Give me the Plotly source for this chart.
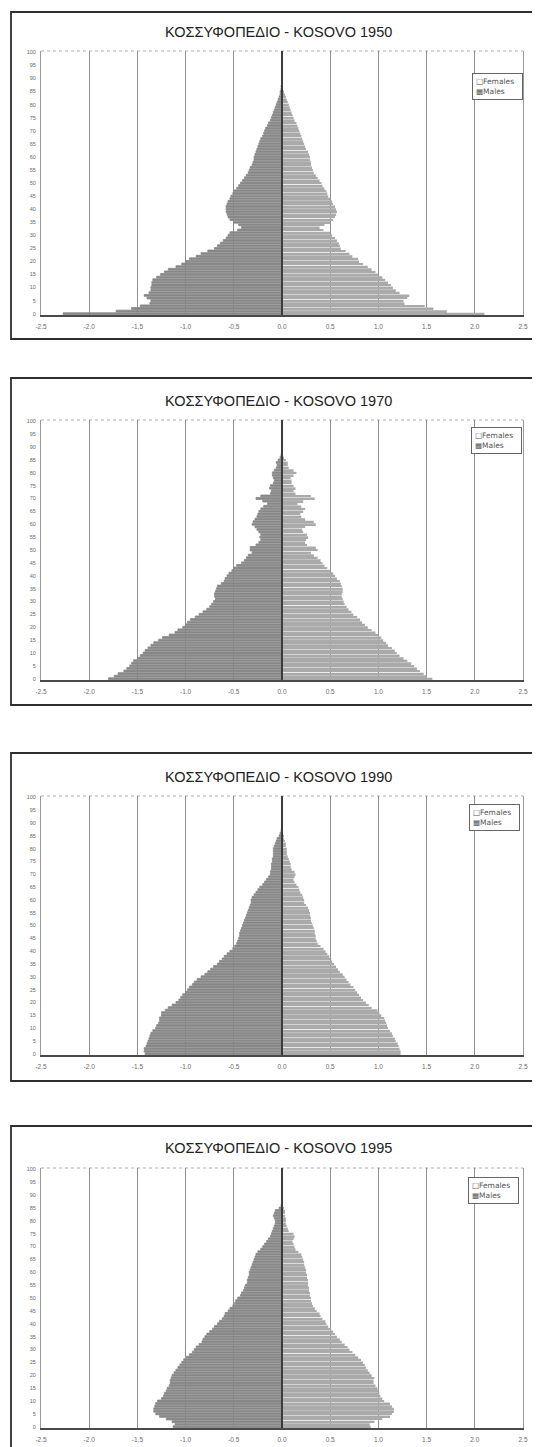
import plotly.graph_objects as go

# ---------------- data (% of total population, single-year ages 0..100) ----------------
ages = list(range(101))
years = ["1950", "1970", "1990", "1995"]
title_text = "ΚΟΣΣΥΦΟΠΕΔΙΟ - KOSOVO "
legend_labels = ["Females", "Males"]

males_1950 = [
    2.27, 1.72, 1.56, 1.47, 1.37, 1.36, 1.40, 1.43, 1.38, 1.36,
    1.36, 1.35, 1.35, 1.34, 1.30, 1.26, 1.22, 1.18, 1.10, 1.04,
    1.00, 0.96, 0.89, 0.84, 0.77, 0.70, 0.67, 0.64, 0.61, 0.58,
    0.56, 0.54, 0.46, 0.42, 0.45, 0.50, 0.54, 0.56, 0.57, 0.58,
    0.58, 0.58, 0.57, 0.56, 0.54, 0.53, 0.51, 0.50, 0.47, 0.45,
    0.43, 0.41, 0.39, 0.37, 0.35, 0.34, 0.33, 0.31, 0.30, 0.29,
    0.29, 0.28, 0.27, 0.26, 0.25, 0.24, 0.23, 0.22, 0.20, 0.19,
    0.18, 0.17, 0.15, 0.14, 0.12, 0.11, 0.10, 0.09, 0.08, 0.07,
    0.06, 0.05, 0.04, 0.03, 0.02, 0.02, 0.01, 0.01, 0.0, 0.0,
    0.0, 0.0, 0.0, 0.0, 0.0, 0.0, 0.0, 0.0, 0.0, 0.0,
    0.0,
]
females_1950 = [
    2.10, 1.71, 1.57, 1.48, 1.27, 1.26, 1.30, 1.32, 1.22, 1.18,
    1.15, 1.13, 1.10, 1.07, 1.04, 1.00, 0.97, 0.93, 0.89, 0.84,
    0.80, 0.79, 0.73, 0.70, 0.66, 0.61, 0.60, 0.59, 0.57, 0.55,
    0.52, 0.50, 0.43, 0.39, 0.44, 0.50, 0.53, 0.55, 0.56, 0.57,
    0.56, 0.55, 0.53, 0.52, 0.50, 0.48, 0.47, 0.46, 0.44, 0.42,
    0.41, 0.39, 0.37, 0.35, 0.33, 0.32, 0.31, 0.30, 0.30, 0.29,
    0.29, 0.28, 0.27, 0.25, 0.24, 0.23, 0.22, 0.21, 0.20, 0.19,
    0.18, 0.17, 0.16, 0.15, 0.13, 0.12, 0.11, 0.10, 0.09, 0.08,
    0.07, 0.06, 0.05, 0.04, 0.03, 0.02, 0.01, 0.01, 0.0, 0.0,
    0.0, 0.0, 0.0, 0.0, 0.0, 0.0, 0.0, 0.0, 0.0, 0.0,
    0.0,
]
males_1970 = [
    1.80, 1.74, 1.70, 1.64, 1.61, 1.58, 1.56, 1.54, 1.50, 1.47,
    1.44, 1.42, 1.39, 1.36, 1.33, 1.28, 1.24, 1.17, 1.11, 1.08,
    1.03, 1.00, 0.98, 0.95, 0.90, 0.86, 0.82, 0.78, 0.75, 0.73,
    0.71, 0.69, 0.70, 0.70, 0.69, 0.68, 0.67, 0.63, 0.60, 0.59,
    0.57, 0.55, 0.52, 0.50, 0.47, 0.42, 0.39, 0.37, 0.35, 0.31,
    0.33, 0.33, 0.27, 0.24, 0.22, 0.23, 0.22, 0.24, 0.26, 0.28,
    0.31, 0.30, 0.28, 0.26, 0.25, 0.24, 0.22, 0.19, 0.15, 0.20,
    0.27, 0.22, 0.12, 0.11, 0.13, 0.12, 0.09, 0.08, 0.09, 0.10,
    0.10, 0.08, 0.06, 0.05, 0.06, 0.04, 0.02, 0.01, 0.0, 0.0,
    0.0, 0.0, 0.0, 0.0, 0.0, 0.0, 0.0, 0.0, 0.0, 0.0,
    0.0,
]
females_1970 = [
    1.56, 1.50, 1.47, 1.43, 1.40, 1.37, 1.34, 1.30, 1.26, 1.22,
    1.19, 1.17, 1.14, 1.10, 1.08, 1.05, 1.03, 1.00, 0.97, 0.93,
    0.89, 0.86, 0.83, 0.81, 0.78, 0.74, 0.72, 0.69, 0.67, 0.65,
    0.64, 0.63, 0.62, 0.62, 0.63, 0.63, 0.62, 0.61, 0.60, 0.57,
    0.55, 0.53, 0.50, 0.47, 0.44, 0.42, 0.40, 0.37, 0.33, 0.30,
    0.37, 0.35, 0.26, 0.24, 0.25, 0.27, 0.26, 0.22, 0.21, 0.24,
    0.35, 0.33, 0.24, 0.20, 0.19, 0.22, 0.24, 0.20, 0.16, 0.22,
    0.34, 0.30, 0.14, 0.12, 0.14, 0.12, 0.10, 0.10, 0.09, 0.12,
    0.15, 0.12, 0.07, 0.06, 0.06, 0.04, 0.02, 0.01, 0.0, 0.0,
    0.0, 0.0, 0.0, 0.0, 0.0, 0.0, 0.0, 0.0, 0.0, 0.0,
    0.0,
]
males_1990 = [
    1.42, 1.43, 1.43, 1.41, 1.40, 1.39, 1.38, 1.37, 1.36, 1.34,
    1.31, 1.30, 1.28, 1.27, 1.27, 1.25, 1.25, 1.21, 1.18, 1.14,
    1.10, 1.07, 1.05, 1.03, 1.00, 0.98, 0.96, 0.93, 0.91, 0.88,
    0.84, 0.80, 0.77, 0.74, 0.71, 0.67, 0.65, 0.62, 0.60, 0.57,
    0.54, 0.51, 0.49, 0.47, 0.46, 0.45, 0.44, 0.44, 0.43, 0.42,
    0.41, 0.40, 0.39, 0.38, 0.37, 0.36, 0.35, 0.34, 0.33, 0.32,
    0.32, 0.31, 0.29, 0.27, 0.25, 0.23, 0.20, 0.18, 0.16, 0.14,
    0.12, 0.12, 0.11, 0.11, 0.11, 0.10, 0.10, 0.09, 0.09, 0.09,
    0.09, 0.08, 0.07, 0.06, 0.05, 0.03, 0.02, 0.01, 0.0, 0.0,
    0.0, 0.0, 0.0, 0.0, 0.0, 0.0, 0.0, 0.0, 0.0, 0.0,
    0.0,
]
females_1990 = [
    1.23, 1.23, 1.22, 1.21, 1.20, 1.18, 1.17, 1.15, 1.14, 1.12,
    1.10, 1.09, 1.08, 1.07, 1.06, 1.03, 1.01, 0.99, 0.93, 0.90,
    0.87, 0.84, 0.82, 0.80, 0.78, 0.76, 0.74, 0.71, 0.69, 0.67,
    0.65, 0.63, 0.60, 0.58, 0.56, 0.54, 0.52, 0.50, 0.49, 0.47,
    0.45, 0.43, 0.40, 0.37, 0.36, 0.35, 0.35, 0.34, 0.34, 0.33,
    0.32, 0.31, 0.30, 0.30, 0.29, 0.29, 0.28, 0.27, 0.25, 0.23,
    0.23, 0.22, 0.21, 0.19, 0.18, 0.17, 0.15, 0.13, 0.12, 0.13,
    0.14, 0.13, 0.10, 0.09, 0.09, 0.08, 0.07, 0.06, 0.05, 0.05,
    0.05, 0.04, 0.04, 0.03, 0.02, 0.02, 0.01, 0.0, 0.0, 0.0,
    0.0, 0.0, 0.0, 0.0, 0.0, 0.0, 0.0, 0.0, 0.0, 0.0,
    0.0,
]
males_1995 = [
    1.13, 1.11, 1.14, 1.20, 1.27, 1.31, 1.33, 1.33, 1.32, 1.31,
    1.29, 1.25, 1.23, 1.22, 1.20, 1.19, 1.17, 1.16, 1.16, 1.15,
    1.14, 1.12, 1.10, 1.08, 1.06, 1.04, 1.02, 0.99, 0.96, 0.93,
    0.91, 0.89, 0.86, 0.83, 0.82, 0.80, 0.78, 0.75, 0.72, 0.70,
    0.67, 0.65, 0.62, 0.60, 0.59, 0.56, 0.54, 0.51, 0.49, 0.48,
    0.46, 0.43, 0.42, 0.40, 0.39, 0.38, 0.36, 0.36, 0.35, 0.34,
    0.34, 0.33, 0.32, 0.31, 0.30, 0.29, 0.28, 0.27, 0.25, 0.22,
    0.20, 0.18, 0.16, 0.14, 0.12, 0.11, 0.10, 0.09, 0.08, 0.07,
    0.07, 0.08, 0.09, 0.08, 0.07, 0.03, 0.01, 0.0, 0.0, 0.0,
    0.0, 0.0, 0.0, 0.0, 0.0, 0.0, 0.0, 0.0, 0.0, 0.0,
    0.0,
]
females_1995 = [
    0.92, 0.91, 0.96, 1.04, 1.12, 1.14, 1.16, 1.16, 1.14, 1.12,
    1.06, 1.04, 1.02, 1.01, 1.00, 0.99, 0.97, 0.95, 0.95, 0.96,
    0.93, 0.91, 0.89, 0.87, 0.86, 0.84, 0.82, 0.79, 0.76, 0.73,
    0.70, 0.68, 0.65, 0.62, 0.60, 0.57, 0.55, 0.53, 0.51, 0.48,
    0.46, 0.45, 0.42, 0.40, 0.39, 0.36, 0.34, 0.32, 0.31, 0.30,
    0.30, 0.29, 0.29, 0.28, 0.28, 0.27, 0.27, 0.27, 0.26, 0.26,
    0.25, 0.25, 0.24, 0.23, 0.23, 0.22, 0.21, 0.20, 0.17, 0.14,
    0.13, 0.12, 0.11, 0.12, 0.13, 0.12, 0.07, 0.06, 0.05, 0.04,
    0.04, 0.04, 0.03, 0.03, 0.03, 0.02, 0.01, 0.0, 0.0, 0.0,
    0.0, 0.0, 0.0, 0.0, 0.0, 0.0, 0.0, 0.0, 0.0, 0.0,
    0.0,
]

males = [males_1950, males_1970, males_1990, males_1995]
females = [females_1950, females_1970, females_1990, females_1995]

x_tick_vals = [-2.5, -2.0, -1.5, -1.0, -0.5, 0.0, 0.5, 1.0, 1.5, 2.0, 2.5]
x_tick_labels = ["-2.5", "-2.0", "-1.5", "-1.0", "-0.5", "0.0", "0.5", "1.0", "1.5", "2.0", "2.5"]
y_tick_vals = [0, 5, 10, 15, 20, 25, 30, 35, 40, 45, 50, 55, 60, 65, 70, 75, 80, 85, 90, 95, 100]

# ---------------- layout geometry (pixels of the 540x1447 page) ----------------
PAGE_W, PAGE_H = 540, 1447
BODY_MARGIN = 8                      # default page margin around the plot div
W, H = PAGE_W - BODY_MARGIN, PAGE_H - BODY_MARGIN
plot_left, plot_right = 41, 523
plot_tops = [51, 420, 796, 1168]
plot_bottoms = [315, 680, 1055, 1428]
box_tops = [12, 378, 753, 1126]
box_bottoms = [339, 705, 1081, 1470]
box_left, box_right = 11, 538
title_ys = [32, 401, 777, 1148]
legend_tops = [73, 427, 804, 1177]
legend_rights = [523, 522, 520, 519]

MALE_COLOR = "#888888"
FEMALE_COLOR = "#aaaaaa"
FONT = "Liberation Sans, Arial, sans-serif"

def px_x(p):
    return (p - BODY_MARGIN) / W

def px_y(p):
    return 1 - (p - BODY_MARGIN) / H

fig = go.Figure()
layout = dict(
    width=W, height=H,
    margin=dict(l=0, r=0, t=0, b=0, autoexpand=False),
    paper_bgcolor="white", plot_bgcolor="white",
    barmode="overlay", bargap=0.28, showlegend=False,
    font=dict(family=FONT, color="#555"),
    shapes=[], annotations=[],
)

for i in range(4):
    n = "" if i == 0 else str(i + 1)
    xname, yname = "x" + n, "y" + n
    fig.add_trace(go.Bar(
        x=females[i], y=ages, orientation="h", name=legend_labels[0],
        xaxis=xname, yaxis=yname,
        marker=dict(color=FEMALE_COLOR, line=dict(width=0)),
        hovertemplate="Age %{y}: %{x:.2f}%<extra>Females</extra>",
    ))
    fig.add_trace(go.Bar(
        x=[-v for v in males[i]], y=ages, orientation="h", name=legend_labels[1],
        xaxis=xname, yaxis=yname,
        marker=dict(color=MALE_COLOR, line=dict(color=MALE_COLOR, width=0.8)),
        customdata=males[i],
        hovertemplate="Age %{y}: %{customdata:.2f}%<extra>Males</extra>",
    ))

    layout["xaxis" + n] = dict(
        domain=[px_x(plot_left), px_x(plot_right)], anchor=yname,
        range=[-2.5, 2.5], tickvals=x_tick_vals, ticktext=x_tick_labels,
        showgrid=True, gridcolor="#8f8f8f", gridwidth=1.2,
        zeroline=False, showline=True, linecolor="#4a4a4a", linewidth=1.5,
        ticks="", ticklabelstandoff=4, automargin=False,
        tickfont=dict(size=6.5, color="#6a6a6a", family=FONT),
    )
    layout["yaxis" + n] = dict(
        domain=[px_y(plot_bottoms[i]), px_y(plot_tops[i])], anchor=xname,
        range=[-0.5, 100.5], tickvals=y_tick_vals,
        showgrid=False, zeroline=False,
        showline=True, mirror=True, linecolor="#9a9a9a", linewidth=1,
        ticks="", ticklabelstandoff=3, automargin=False,
        tickfont=dict(size=5.5, color="#6a6a6a", family=FONT),
    )
    # vertical axis line through zero (drawn above the bars)
    layout["shapes"].append(dict(
        type="line", xref=xname, yref=yname + " domain",
        x0=0, x1=0, y0=0, y1=1, layer="above",
        line=dict(color="#3c3c3c", width=2),
    ))
    # faint dotted top border of plot area
    layout["shapes"].append(dict(
        type="line", xref=xname + " domain", yref=yname + " domain",
        x0=0, x1=1, y0=1, y1=1, layer="below",
        line=dict(color="#b0b0b0", width=1, dash="dot"),
    ))
    # chart frame
    layout["shapes"].append(dict(
        type="rect", xref="paper", yref="paper",
        x0=px_x(box_left), x1=px_x(box_right),
        y0=px_y(box_bottoms[i]), y1=px_y(box_tops[i]),
        line=dict(color="#2e2e2e", width=1.8), fillcolor="rgba(0,0,0,0)",
    ))
    layout["annotations"].append(dict(
        text=title_text + years[i], xref="paper", yref="paper",
        x=px_x(278), y=px_y(title_ys[i]), xanchor="center", yanchor="middle",
        showarrow=False, font=dict(size=14.5, color="#222222", family=FONT),
    ))
    # small boxed legend (Excel-style)
    layout["annotations"].append(dict(
        text="□" + legend_labels[0] + "<br>▦" + legend_labels[1],
        xref="paper", yref="paper",
        x=px_x(legend_rights[i]), y=px_y(legend_tops[i]),
        xanchor="right", yanchor="top", align="left", showarrow=False,
        bgcolor="white", bordercolor="#666", borderwidth=1, borderpad=3,
        width=43,
        font=dict(size=7.5, color="#555", family="DejaVu Sans, " + FONT),
    ))

fig.update_layout(**layout)
fig.write_html("out.html")
